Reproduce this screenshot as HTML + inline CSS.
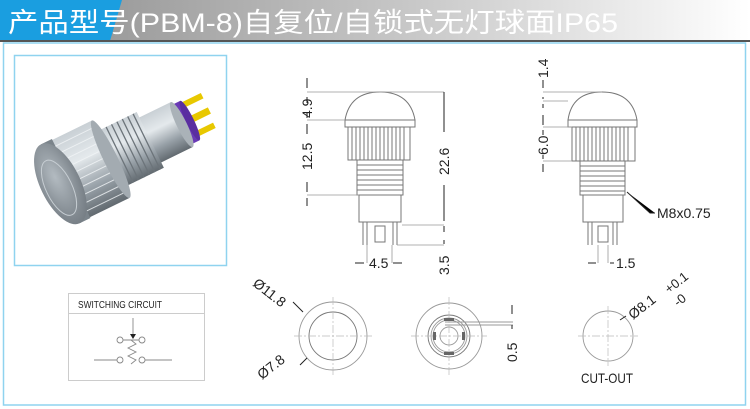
<!DOCTYPE html>
<html><head><meta charset="utf-8"><style>
html,body{margin:0;padding:0;background:#fff;}
svg{display:block;}
text{font-family:"Liberation Sans","Noto Sans CJK SC",sans-serif;}
</style></head><body>
<svg width="750" height="409" viewBox="0 0 750 409" xmlns="http://www.w3.org/2000/svg">
<defs>
<linearGradient id="tg" x1="0" x2="1" y1="0" y2="0">
<stop offset="0" stop-color="#8c8c8c"/><stop offset="0.55" stop-color="#c8c8c8"/><stop offset="1" stop-color="#ffffff"/>
</linearGradient>
<linearGradient id="cyl" x1="0" y1="0" x2="0" y2="1">
<stop offset="0" stop-color="#c9d0d5"/><stop offset="0.35" stop-color="#e4e9ec"/><stop offset="0.7" stop-color="#98a1a8"/><stop offset="1" stop-color="#626a70"/>
</linearGradient>
<radialGradient id="face" cx="0.45" cy="0.4" r="0.7">
<stop offset="0" stop-color="#b3bbc1"/><stop offset="1" stop-color="#6d757c"/>
</radialGradient>
</defs>
<!-- title bar -->
<rect x="0" y="0" width="750" height="41" fill="url(#tg)"/>
<polygon points="0,0 122,0 110,41 0,41" fill="#1a9ee0"/>
<rect x="0" y="40" width="750" height="2" fill="#555"/>
<text x="8" y="32" font-size="27" fill="#fff" textLength="610" lengthAdjust="spacingAndGlyphs">产品型号(PBM-8)自复位/自锁式无灯球面IP65</text>
<!-- frame -->
<rect x="3.5" y="43" width="742" height="362" fill="none" stroke="#8fd3ef" stroke-width="1.5"/>
<rect x="14.5" y="55.5" width="212" height="210" fill="none" stroke="#8fd3ef" stroke-width="1.5"/>

<!-- photo -->
<g transform="translate(64,182) rotate(-26)">
<rect x="140" y="-20" width="22" height="6" fill="#e8c800"/>
<rect x="140" y="-4" width="22" height="7" fill="#e8c800"/>
<rect x="140" y="12" width="20" height="6" fill="#e8c800"/>
<rect x="128" y="-22" width="12" height="44" fill="#6a3ab5"/>
<ellipse cx="140" cy="0" rx="4" ry="22" fill="#5a2ea0"/>
<rect x="95" y="-25" width="36" height="50" fill="url(#cyl)"/>
<ellipse cx="131" cy="0" rx="5" ry="25" fill="#aab2b8"/>
<rect x="50" y="-31" width="46" height="62" fill="url(#cyl)"/>
<g stroke="#6c747a" stroke-width="1.3">
<path d="M56,-31v62M62,-31v62M68,-31v62M74,-31v62M80,-31v62M86,-31v62M92,-31v62"/>
</g>
<rect x="6" y="-43" width="46" height="86" fill="url(#cyl)"/>
<g stroke="#f2f5f7" stroke-width="1" opacity="0.8">
<path d="M6,-36h46M6,-28h46M6,-20h46M6,-12h46M6,-4h46M6,4h46M6,12h46M6,20h46M6,28h46M6,36h46"/>
</g>
<ellipse cx="52" cy="0" rx="7" ry="43" fill="#a3abb1"/>
<rect x="-4" y="-44" width="12" height="88" fill="#7b848b"/>
<ellipse cx="-4" cy="0" rx="20" ry="44" fill="url(#face)"/>
<ellipse cx="-7" cy="3" rx="13" ry="30" fill="none" stroke="#c7ced3" stroke-width="1"/>
</g>

<!-- front view -->
<g fill="none" stroke="#777" stroke-width="1">
<path d="M345,120 Q350,92 380,92 Q410,92 415,120 Z"/>
<rect x="345" y="120" width="70" height="7"/>
<rect x="348" y="127" width="62" height="33"/>
<path d="M352,127v33M356,127v33M360,127v33M364,127v33M368,127v33M372,127v33M376,127v33M380,127v33M384,127v33M388,127v33M392,127v33M396,127v33M400,127v33M404,127v33"/>
<rect x="357" y="160" width="46" height="35"/>
<path d="M357,165h46M357,170h46M357,175h46M357,180h46M357,185h46M357,190h46"/>
<rect x="359" y="195" width="42" height="27"/>
<path d="M363,222v23M367,222v23M393,222v23M397,222v23M375,226h10v16h-10z"/>
</g>
<g stroke="#999" stroke-width="0.8" fill="none">
<path d="M307,92h73M307,120h38M307,195h52M444,92h-64M444,225h-42M444,245h-47M367,245v18M392,245v18"/>
</g>
<g stroke="#222" stroke-width="1">
<path d="M307,78v10M307,97v6M307,113v5M307,124v10M307,182v10M307,198v8"/>
<path d="M444,92v40M444,185v36M444,226v6M444,240v4"/>
<path d="M355,263h9M393,263h9"/>
</g>
<g font-size="14" fill="#222">
<text transform="translate(312,118) rotate(-90)">4.9</text>
<text transform="translate(312,170) rotate(-90)">12.5</text>
<text transform="translate(449,175) rotate(-90)">22.6</text>
<text transform="translate(449,275) rotate(-90)">3.5</text>
<text x="369" y="268">4.5</text>
</g>

<!-- side view -->
<g fill="none" stroke="#777" stroke-width="1">
<path d="M568,120 Q572,92 602,92 Q632,92 637,120 Z"/>
<rect x="568" y="120" width="69" height="7"/>
<rect x="572" y="127" width="63" height="34"/>
<path d="M576,127v34M580,127v34M584,127v34M588,127v34M592,127v34M596,127v34M600,127v34M604,127v34M608,127v34M612,127v34M616,127v34M620,127v34M624,127v34M628,127v34"/>
<rect x="580" y="161" width="45" height="34"/>
<path d="M580,166h45M580,171h45M580,176h45M580,181h45M580,186h45M580,191h45"/>
<rect x="583" y="195" width="40" height="27"/>
<path d="M588,222v23M592,222v23M613,222v23M617,222v23M598,226h10v16h-10z"/>
</g>
<g stroke="#999" stroke-width="0.8" fill="none">
<path d="M543,92h59M543,101h25M543,127h29M543,161h29M598,245v18M608,245v18"/>
</g>
<g stroke="#222" stroke-width="1">
<path d="M543,80v8M543,97v2M543,104v4M543,115v10M543,130v5M543,155v4M543,164v8"/>
<path d="M627,192l23,21h5M588,263h8M610,263h4"/>
</g>
<g font-size="14" fill="#222">
<text transform="translate(548,78) rotate(-90)">1.4</text>
<text transform="translate(548,155) rotate(-90)">6.0</text>
<text x="657" y="218">M8x0.75</text>
<text x="616" y="268">1.5</text>
</g>

<!-- switching circuit -->
<rect x="68.5" y="293.5" width="136" height="87" fill="none" stroke="#ccc"/>
<line x1="69" y1="313.5" x2="204" y2="313.5" stroke="#ccc"/>
<text x="78" y="308" font-size="10" fill="#222" textLength="84" lengthAdjust="spacingAndGlyphs">SWITCHING CIRCUIT</text>
<g stroke="#888" stroke-width="0.9" fill="none">
<path d="M133,318v20"/>
<circle cx="120" cy="340" r="3"/><circle cx="142" cy="340" r="3"/>
<circle cx="120" cy="360" r="3"/><circle cx="142" cy="360" r="3"/>
<path d="M94,360h23M145,360h27M123,340h16M131,340l5,4-8,4 8,4-8,4 8,4-5,4"/>
</g>
<path d="M130,334l3,5 3,-5z" fill="#222"/>

<!-- circles -->
<g fill="none" stroke="#999" stroke-width="0.9">
<circle cx="333" cy="336" r="34"/>
<circle cx="333" cy="336" r="24" stroke="#777"/>
<circle cx="449" cy="336" r="33"/>
<circle cx="449" cy="336" r="21" stroke="#777"/>
<circle cx="449" cy="336" r="18"/>
<circle cx="449" cy="336" r="16"/>
<circle cx="449" cy="336" r="9"/>
<circle cx="608" cy="336" r="25"/>
<path d="M445,322h68M445,325h68"/>
</g>
<g stroke="#bbb" stroke-width="0.7" stroke-dasharray="8,2,2,2">
<path d="M294,336h78M333,297v78M411,336h76M449,297v78M578,336h60M608,306v60"/>
</g>
<g fill="#666"><rect x="444" y="318" width="10" height="3"/><rect x="444" y="352" width="10" height="3"/><rect x="433" y="332" width="3" height="8"/><rect x="462" y="332" width="3" height="8"/></g>
<g stroke="#222" stroke-width="1">
<path d="M293,302l10,10M300,365l7,-7M512,305v9M512,325v4M620,320l6,-4"/>
</g>
<g font-size="14" fill="#222">
<text transform="translate(252,285) rotate(38)">Ø11.8</text>
<text transform="translate(262,380) rotate(-38)">Ø7.8</text>
<text transform="translate(517,362) rotate(-90)">0.5</text>
<text transform="translate(633,320) rotate(-38)">Ø8.1</text>
<text transform="translate(669,294) rotate(-38)" font-size="13">+0.1</text>
<text transform="translate(678,307) rotate(-38)" font-size="13">-0</text>
<text x="581" y="383" font-size="14" textLength="52" lengthAdjust="spacingAndGlyphs">CUT-OUT</text>
</g>
</svg>
</body></html>
